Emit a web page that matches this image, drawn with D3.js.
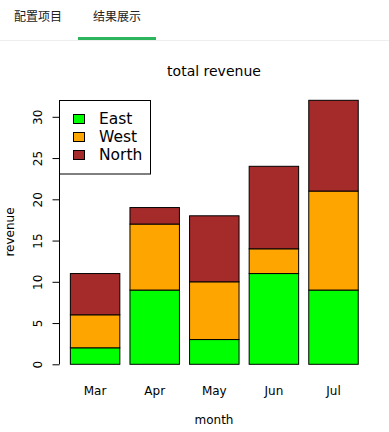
<!DOCTYPE html>
<html>
<head>
<meta charset="utf-8">
<script src="https://cdn.jsdelivr.net/npm/d3@7"></script>
<style>
  body { margin: 0; background: #fff; }
  svg text { font-family: "DejaVu Sans", "Noto Sans", sans-serif; }
</style>
</head>
<body>
<svg id="chart" width="389" height="432"></svg>
<script>
// data
var months = ["Mar", "Apr", "May", "Jun", "Jul"];
var east = [2, 9, 3, 11, 9];
var west = [4, 8, 7, 3, 12];
var north = [5, 2, 8, 10, 11];
var seriesNames = ["East", "West", "North"];
var seriesColors = ["#00ff00", "#ffa500", "#a52a2a"];
var yTicks = [0, 5, 10, 15, 20, 25, 30];

var svg = d3.select("#chart");

// tabs on top
svg.append("text").attr("x", 14).attr("y", 21)
    .style("font-family", "'Noto Sans CJK SC'").style("font-size", "12px")
    .attr("fill", "#222").text("配置项目");
svg.append("text").attr("x", 93).attr("y", 21)
    .style("font-family", "'Noto Sans CJK SC'").style("font-size", "12px")
    .attr("fill", "#222").text("结果展示");
svg.append("rect").attr("x", 0).attr("y", 40).attr("width", 389).attr("height", 1).attr("fill", "#eeeeee");
svg.append("rect").attr("x", 78).attr("y", 37).attr("width", 78).attr("height", 3).attr("fill", "#2db55d");

var table = months.map(function(m, i) {
  return {month: m, East: east[i], West: west[i], North: north[i]};
});
var stacked = d3.stack().keys(seriesNames)(table);

var x = d3.scaleBand().domain(months).range([65.3, 363.3]).paddingInner(0.17).paddingOuter(0.085);
var y = d3.scaleLinear().domain([0, 32]).range([364.3, 100.3]);

var bars = svg.append("g");
stacked.forEach(function(layer, k) {
  bars.selectAll(null).data(layer).enter().append("rect")
      .attr("x", function(d) { return x(d.data.month); })
      .attr("y", function(d) { return y(d[1]); })
      .attr("width", x.bandwidth())
      .attr("height", function(d) { return y(d[0]) - y(d[1]); })
      .attr("fill", seriesColors[k])
      .attr("stroke", "#000")
      .attr("stroke-width", 1);
});

// y axis, R style with rotated labels
var yAxis = svg.append("g").attr("transform", "translate(59.5,0)")
    .call(d3.axisLeft(y).tickValues(yTicks).tickSize(7));
yAxis.select(".domain").attr("d", "M0," + y(0) + "V" + y(30)).attr("stroke", "#000");
yAxis.selectAll(".tick line").attr("stroke", "#000");
yAxis.selectAll(".tick text")
    .attr("x", 0).attr("y", -22).attr("dy", "0.35em")
    .attr("transform", "rotate(-90)")
    .attr("text-anchor", "middle")
    .attr("fill", "#000")
    .style("font-size", "12px");

// month labels
svg.append("g").selectAll("text").data(months).enter().append("text")
    .attr("x", function(d) { return x(d) + x.bandwidth() / 2; })
    .attr("y", 395)
    .attr("text-anchor", "middle")
    .style("font-size", "12px")
    .text(function(d) { return d; });

svg.append("text").attr("x", 214).attr("y", 424).attr("text-anchor", "middle")
    .style("font-size", "12px").text("month");
svg.append("text").attr("transform", "translate(14,232) rotate(-90)").attr("text-anchor", "middle")
    .style("font-size", "12px").text("revenue");
svg.append("text").attr("x", 214).attr("y", 76).attr("text-anchor", "middle")
    .style("font-size", "14px").text("total revenue");

// legend
var legend = svg.append("g");
legend.append("rect").attr("x", 59.5).attr("y", 100.5).attr("width", 91).attr("height", 73.5)
    .attr("fill", "#fff").attr("stroke", "#000");
seriesNames.forEach(function(name, i) {
  legend.append("rect").attr("x", 73.5).attr("y", 114.5 + i * 18).attr("width", 11).attr("height", 9)
      .attr("fill", seriesColors[i]).attr("stroke", "#000");
  legend.append("text").attr("x", 99).attr("y", 119 + i * 18).attr("dy", "0.35em")
      .style("font-size", "15.5px").attr("fill", "#000").text(name);
});
</script>
</body>
</html>
